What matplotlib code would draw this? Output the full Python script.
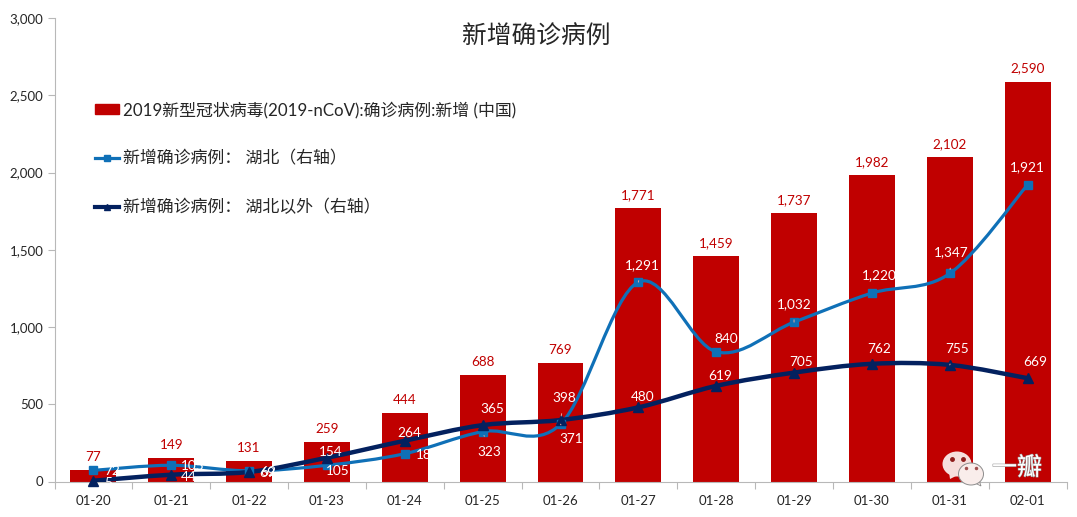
# -*- coding: utf-8 -*-
import numpy as np
import matplotlib
matplotlib.use('Agg')
import matplotlib.pyplot as plt
import matplotlib.patheffects as pe
from matplotlib.lines import Line2D
from matplotlib.patches import Ellipse, PathPatch, Patch, Polygon
from matplotlib.path import Path

plt.rcParams['font.family'] = ['Lato', 'Noto Sans CJK SC', 'DejaVu Sans']

dates = ['01-20', '01-21', '01-22', '01-23', '01-24', '01-25', '01-26',
         '01-27', '01-28', '01-29', '01-30', '01-31', '02-01']
total = [77, 149, 131, 259, 444, 688, 769, 1771, 1459, 1737, 1982, 2102, 2590]
hubei = [72, 105, 69, 105, 180, 323, 371, 1291, 840, 1032, 1220, 1347, 1921]
outside = [5, 44, 62, 154, 264, 365, 398, 480, 619, 705, 762, 755, 669]

# label offsets from the point, in pixels (dx, up)
hubei_off = [(19, -1), (21, -1), (18, -2), (11, -6), (23, -1), (7, -20), (11, -15),
             (4, 17), (10, 13), (0, 18), (7, 18), (2, 21), (0, 18)]
outside_off = [(15, -2), (17, -2), (19, 0), (4, 6), (4, 8), (10, 16), (4, 22),
               (4, 10), (4, 10), (7, 11), (7, 15), (7, 16), (8, 16)]
hubei_leader = [5, 6, 7, 9, 11]
outside_leader = [6, 11]

RED = '#C00000'
BLUE = '#0F70B7'
NAVY = '#03215F'
GREY = '#B8B8B8'
TEXT = '#262626'


def smooth_path(ys):
    # same kind of smoothing as a spreadsheet line chart: bezier through every point
    pts = np.column_stack([np.arange(len(ys)), ys]).astype(float)
    verts = [pts[0]]
    codes = [Path.MOVETO]
    for i in range(len(pts) - 1):
        p0 = pts[max(i - 1, 0)]
        p3 = pts[min(i + 2, len(pts) - 1)]
        verts += [pts[i] + (pts[i + 1] - p0) / 6, pts[i + 1] - (p3 - pts[i]) / 6, pts[i + 1]]
        codes += [Path.CURVE4] * 3
    return Path(verts, codes)


fig = plt.figure(figsize=(10.77, 5.17), dpi=100)
ax = fig.add_axes([54.5 / 1077, 1 - 481.5 / 517, 1012 / 1077, 463.3 / 517])

x = np.arange(len(dates))
ax.bar(x, total, width=0.59, color=RED, zorder=1)
ax.add_patch(PathPatch(smooth_path(hubei), fc='none', ec=BLUE, lw=2.3, zorder=3, capstyle='round'))
ax.add_patch(PathPatch(smooth_path(outside), fc='none', ec=NAVY, lw=3.2, zorder=4, capstyle='round'))
ax.plot(x, hubei, ls='none', marker='s', ms=6, color=BLUE, zorder=5, clip_on=False)
ax.plot(x, outside, ls='none', marker='^', ms=6.5, color=NAVY, zorder=5, clip_on=False)

ax.set_xlim(-0.5, 12.5)
ax.set_ylim(0, 3000)
ax.set_yticks(range(0, 3001, 500))
ax.set_yticklabels(['{:,}'.format(v) for v in range(0, 3001, 500)])
ax.set_xticks(x)
ax.set_xticklabels(dates)
ax.set_xticks(np.arange(-0.5, 13, 1), minor=True)
ax.tick_params(axis='x', which='major', length=0, pad=10, labelsize=9.5, labelcolor=TEXT)
ax.tick_params(axis='x', which='minor', length=5, color=GREY, width=0.8)
ax.tick_params(axis='y', length=5, color=GREY, width=0.8, labelsize=9.5, labelcolor=TEXT, pad=3)
for s in ['top', 'right']:
    ax.spines[s].set_visible(False)
for s in ['left', 'bottom']:
    ax.spines[s].set_color(GREY)
    ax.spines[s].set_linewidth(0.8)

for i, v in enumerate(total):
    ax.annotate('{:,}'.format(v), (i, v), xytext=(0, 13), textcoords='offset pixels',
                ha='center', va='center', color=RED, fontsize=9.7, zorder=6)


def point_labels(values, offsets, leaders):
    for i, v in enumerate(values):
        arrow = None
        if i in leaders:
            arrow = dict(arrowstyle='-', color='#E8A9A0', lw=0.7, shrinkA=5, shrinkB=3)
        ax.annotate('{:,}'.format(v), (i, v), xytext=offsets[i], textcoords='offset pixels',
                    ha='center', va='center', color='white', fontsize=9.8, zorder=7,
                    arrowprops=arrow)


point_labels(hubei, hubei_off, hubei_leader)
point_labels(outside, outside_off, outside_leader)

handles = [Patch(color=RED),
           Line2D([], [], color=BLUE, lw=2.3, marker='s', ms=5),
           Line2D([], [], color=NAVY, lw=3.0, marker='^', ms=5)]
labels = ['2019新型冠状病毒(2019-nCoV):确诊病例:新增 (中国)',
          '新增确诊病例： 湖北（右轴）',
          '新增确诊病例： 湖北以外（右轴）']
leg = ax.legend(handles, labels, loc='upper left', bbox_to_anchor=(80 / 1077, 1 - 86 / 517),
                bbox_transform=fig.transFigure, frameon=False, fontsize=12.2, labelcolor=TEXT,
                labelspacing=1.9, handlelength=1.4, handleheight=0.55, handletextpad=0.25,
                borderpad=0.4)
leg.set_zorder(8)

fig.text(536 / 1077, 1 - 36.5 / 517, '新增确诊病例', ha='center', va='center', fontsize=17.8, color=TEXT)

# watermark, in pixel coordinates of the figure
over = fig.add_axes([0, 0, 1, 1])
over.set_xlim(0, 1077)
over.set_ylim(517, 0)
over.axis('off')
over.add_patch(Polygon([[949, 472], [950, 479], [958, 475]], fc='#F6DEDC', ec='none'))
over.add_patch(Ellipse((957, 464), 29, 25, fc='#F6DEDC', ec='none'))
over.add_patch(Polygon([[975, 483], [981, 486], [979, 480]], fc='#F9EDEB', ec='#8C8C8C', lw=0.6))
over.add_patch(Ellipse((971, 474), 25, 22, fc='#F9EDEB', ec='#8C8C8C', lw=0.7))
over.plot([952, 963], [459, 459], ls='none', marker='o', ms=2.5, color='#8E1B1B')
over.plot([966, 976], [468, 468], ls='none', marker='o', ms=1.5, color='#A05050')
over.text(1017, 468, '一瓣', ha='center', va='center', fontsize=18, color='white',
          family=['Noto Sans CJK SC', 'DejaVu Sans'],
          path_effects=[pe.withStroke(linewidth=0.8, foreground='#9A9A9A')])

fig.savefig('out.png', dpi=100)
